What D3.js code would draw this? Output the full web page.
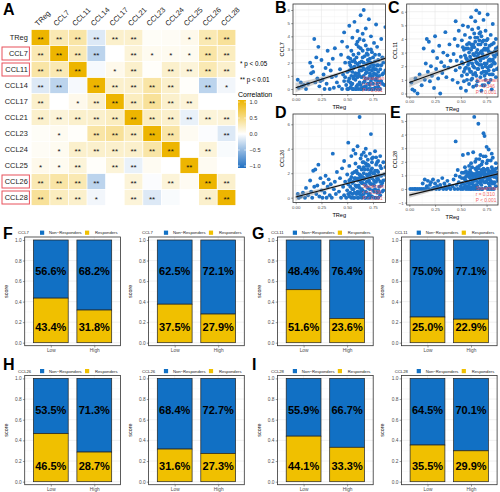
<!DOCTYPE html>
<html><head><meta charset="utf-8">
<script src="https://cdn.jsdelivr.net/npm/d3@7"></script>
<style>body{margin:0;background:#fff}svg{display:block;font-family:"Liberation Sans",Arial,sans-serif}</style>
</head><body><svg id="c" width="500" height="492"></svg>
<script>
// ---------------- DATA ----------------
const genes = ["TReg","CCL7","CCL11","CCL14","CCL17","CCL21","CCL23","CCL24","CCL25","CCL26","CCL28"];
const highlighted = ["CCL7","CCL11","CCL26","CCL28"];
const corr = [
 [1.00, 0.30, 0.35,-0.15, 0.20, 0.20, 0.03, 0.04, 0.08, 0.30, 0.40],
 [0.30, 1.00, 0.30,-0.30, 0.00, 0.15, 0.06, 0.06, 0.06, 0.35, 0.25],
 [0.35, 0.30, 1.00,-0.04, 0.08, 0.20, 0.02, 0.20, 0.15, 0.30, 0.20],
 [-0.15,-0.30,-0.04,1.00, 0.20, 0.20, 0.35, 0.20, 0.02,-0.30,-0.06],
 [0.20, 0.00, 0.08, 0.20, 1.00, 0.25, 0.40, 0.20, 0.15, 0.00, 0.00],
 [0.20, 0.15, 0.20, 0.20, 0.25, 1.00, 0.25, 0.20,-0.10, 0.15, 0.15],
 [0.03, 0.06, 0.02, 0.35, 0.40, 0.25, 1.00, 0.35, 0.05,-0.02,-0.15],
 [0.04, 0.06, 0.20, 0.20, 0.20, 0.20, 0.35, 1.00, 0.00, 0.15,-0.03],
 [0.08, 0.06, 0.15, 0.02, 0.15,-0.10, 0.05, 0.00, 1.00, 0.05, 0.00],
 [0.30, 0.35, 0.30,-0.30, 0.00, 0.15,-0.02, 0.15, 0.05, 1.00, 0.20],
 [0.40, 0.25, 0.20,-0.06, 0.00, 0.15,-0.15,-0.03, 0.00, 0.20, 1.00]
];
const sig = [
 ["**","**","**","**","**","**","","","*","**","**"],
 ["**","**","**","**","","**","*","*","*","**","**"],
 ["**","**","**","","*","**","","**","**","**","**"],
 ["**","**","","**","**","**","**","**","","**","*"],
 ["**","","*","**","**","**","**","**","**","",""],
 ["**","**","**","**","**","**","**","**","**","**","**"],
 ["","*","","**","**","**","**","**","","","**"],
 ["","*","**","**","**","**","**","**","","**",""],
 ["*","*","**","","**","**","","","**","",""],
 ["**","**","**","**","","**","","**","","**","**"],
 ["**","**","**","*","","**","**","","","**","**"]
];
const legendTicks = [1.0,0.5,0.0,-0.5,-1.0];

const ptsB = [[0.02,0.7],[0.03,0.1],[0.05,0.5],[0.06,0.2],[0.08,0.3],[0.1,0.0],[0.12,0.4],[0.14,2.0],[0.15,1.2],[0.16,1.7],[0.17,1.3],[0.18,3.8],[0.19,0.5],[0.2,2.4],[0.21,0.8],[0.22,3.2],[0.23,0.2],[0.24,0.6],[0.25,2.2],[0.26,0.7],[0.27,1.1],[0.28,0.0],[0.29,1.6],[0.3,0.4],[0.31,2.9],[0.32,1.9],[0.33,0.0],[0.34,1.4],[0.35,0.9],[0.36,2.3],[0.37,0.1],[0.38,3.1],[0.39,1.0],[0.4,0.5],
[0.42,0.2],[0.43,1.5],[0.44,2.6],[0.45,0.0],[0.45,3.6],[0.46,1.1],[0.47,0.6],[0.47,4.3],[0.48,2.0],[0.49,0.3],[0.5,1.3],[0.5,3.2],[0.51,0.0],[0.51,2.4],[0.52,0.8],[0.52,4.8],[0.53,1.8],[0.53,0.1],[0.54,2.9],[0.54,1.0],[0.55,0.4],[0.55,3.9],[0.56,1.6],[0.56,0.0],[0.57,2.2],[0.57,5.1],[0.58,0.7],[0.58,1.2],[0.59,3.4],[0.59,0.2],[0.6,1.9],[0.6,4.4],[0.61,0.0],[0.61,2.7],[0.62,1.4],[0.62,0.5],[0.63,3.1],[0.63,5.6],[0.64,0.9],[0.64,2.1],[0.65,0.1],[0.65,1.7],[0.66,3.7],[0.66,6.0],[0.67,0.6],[0.67,2.5],[0.68,1.2],[0.68,4.6],[0.69,0.0],[0.69,1.9],[0.7,3.0],[0.7,0.8],[0.71,5.3],[0.71,1.5],[0.72,0.3],[0.72,2.3],[0.73,4.0],[0.73,1.0],[0.74,0.0],[0.74,2.8],[0.75,1.6],[0.75,0.4],[0.76,3.5],[0.76,1.2],[0.77,0.1],[0.77,2.1],[0.78,4.9],[0.78,0.7],[0.79,1.8],[0.79,3.2],[0.8,0.2],[0.8,1.3],[0.81,2.6],[0.81,0.0],[0.82,1.5],[0.83,3.8],[0.83,0.6],[0.84,1.1],[0.85,2.0],[0.86,0.3],[0.87,4.7],[0.87,1.4],
[0.48,0.9],[0.5,0.0],[0.52,1.4],[0.54,0.3],[0.56,2.6],[0.58,0.0],[0.6,0.9],[0.62,2.0],[0.64,0.0],[0.66,1.0],[0.68,0.2],[0.7,1.6],[0.72,0.0],[0.74,1.4],[0.76,0.0],[0.78,1.1],[0.8,0.6],[0.82,0.0],[0.84,2.4],[0.6,3.6],[0.65,4.2],[0.7,2.2],[0.75,2.4],[0.62,3.8],[0.68,3.3],[0.73,0.6],[0.57,1.0],[0.63,1.7],[0.69,2.7],[0.71,0.4],[0.77,1.5],[0.66,0.5],[0.59,2.4],[0.53,2.3],[0.55,1.3],[0.61,1.2],[0.67,1.5],[0.72,1.2],[0.79,0.4],[0.74,1.9],
[0.51,0.6],[0.52,2.0],[0.53,0.5],[0.54,1.6],[0.55,2.1],[0.56,0.8],[0.57,1.7],[0.58,2.0],[0.59,1.0],[0.6,0.3],[0.61,1.7],[0.62,1.0],[0.63,0.3],[0.64,1.4],[0.65,2.4],[0.66,1.5],[0.67,0.2],[0.68,0.8],[0.69,1.3],[0.7,0.4],[0.71,2.0],[0.72,1.7],[0.73,2.0],[0.74,0.8],[0.75,1.0],[0.76,1.8],[0.77,0.7],[0.78,1.5],[0.79,0.9],[0.8,1.8],[0.81,1.0],[0.82,0.5],[0.83,1.8],[0.84,0.4],[0.85,1.2],[0.63,0.0],[0.67,0.0],[0.71,0.0],[0.75,0.0],[0.79,0.0],[0.55,0.0],[0.59,0.0],[0.65,2.9],[0.7,2.6],[0.73,3.0],[0.77,2.6],[0.61,3.2],[0.66,2.0],[0.72,1.0],[0.8,2.2]];
const ptsC = [[0.02,0.8],[0.03,0.3],[0.05,0.2],[0.06,1.1],[0.08,0.0],[0.1,1.4],[0.12,0.6],[0.14,3.3],[0.15,1.0],[0.16,2.2],[0.17,4.0],[0.18,1.6],[0.19,3.8],[0.2,0.9],[0.21,2.0],[0.22,1.3],[0.23,3.1],[0.24,0.4],[0.25,4.2],[0.26,1.8],[0.27,2.6],[0.28,1.1],[0.29,3.5],[0.3,0.0],[0.31,2.3],[0.32,1.5],[0.33,3.0],[0.34,2.0],[0.35,4.5],[0.36,1.2],[0.37,2.8],[0.38,1.9],[0.39,3.6],[0.4,2.4],
[0.42,1.0],[0.43,2.9],[0.44,4.0],[0.45,1.7],[0.45,5.3],[0.46,2.4],[0.47,0.8],[0.47,3.5],[0.48,4.6],[0.49,1.9],[0.5,2.7],[0.5,0.4],[0.51,3.9],[0.51,1.3],[0.52,2.2],[0.52,5.0],[0.53,3.2],[0.53,0.9],[0.54,4.3],[0.54,1.8],[0.55,2.6],[0.55,0.2],[0.56,3.6],[0.56,1.4],[0.57,4.9],[0.57,2.1],[0.58,0.7],[0.58,3.0],[0.59,1.6],[0.59,4.1],[0.6,2.5],[0.6,5.6],[0.61,1.1],[0.61,3.4],[0.62,2.0],[0.62,0.5],[0.63,4.4],[0.63,2.8],[0.64,1.5],[0.64,3.8],[0.65,6.1],[0.65,2.3],[0.66,0.9],[0.66,3.2],[0.67,4.8],[0.67,1.8],[0.68,2.6],[0.68,5.9],[0.69,1.2],[0.69,3.6],[0.7,2.1],[0.7,4.2],[0.71,0.6],[0.71,2.9],[0.72,5.4],[0.72,1.6],[0.73,3.3],[0.73,2.2],[0.74,4.6],[0.74,1.0],[0.75,2.7],[0.75,3.9],[0.76,1.9],[0.76,5.8],[0.77,2.4],[0.77,0.8],[0.78,3.5],[0.78,1.4],[0.79,4.3],[0.79,2.0],[0.8,3.0],[0.8,0.3],[0.81,2.5],[0.81,5.1],[0.82,1.7],[0.82,3.7],[0.83,2.2],[0.84,4.0],[0.84,1.2],[0.85,2.9],[0.86,3.4],[0.87,1.9],[0.88,2.6],
[0.55,3.3],[0.6,1.0],[0.62,3.6],[0.65,1.3],[0.67,2.9],[0.69,4.5],[0.7,0.2],[0.71,3.8],[0.73,1.3],[0.75,1.5],[0.77,3.1],[0.79,1.0],[0.58,2.3],[0.63,1.9],[0.66,2.2],[0.68,3.9],[0.72,2.6],[0.74,3.2],[0.76,2.8],[0.8,2.1],[0.83,3.1],[0.61,4.7],[0.64,5.3],[0.69,2.4],[0.74,2.0],[0.78,2.5],[0.82,2.8],[0.6,3.2],[0.66,4.1],[0.7,3.1],
[0.51,2.3],[0.52,3.4],[0.53,1.6],[0.54,2.8],[0.55,1.9],[0.56,2.5],[0.57,3.3],[0.58,1.8],[0.59,2.7],[0.6,3.6],[0.61,2.2],[0.62,2.9],[0.63,3.4],[0.64,2.5],[0.65,3.0],[0.66,1.8],[0.67,3.6],[0.68,2.1],[0.69,3.0],[0.7,2.6],[0.71,1.9],[0.72,3.2],[0.73,2.7],[0.74,3.6],[0.75,2.2],[0.76,3.3],[0.77,1.7],[0.78,3.0],[0.79,2.4],[0.8,3.6],[0.81,1.4],[0.82,2.3],[0.83,2.7],[0.84,3.3],[0.85,1.8],[0.62,1.4],[0.66,2.7],[0.7,1.5],[0.74,1.6],[0.78,2.0],[0.64,4.1],[0.68,4.4],[0.72,3.9],[0.76,4.0],[0.6,1.6],[0.58,3.7],[0.8,1.4],[0.65,0.6],[0.73,0.6],[0.56,1.0]];
const ptsD = [[0.02,0.3],[0.03,0.0],[0.05,0.1],[0.07,0.4],[0.09,0.0],[0.1,0.8],[0.12,0.2],[0.14,1.4],[0.15,0.5],[0.16,0.0],[0.17,2.2],[0.18,0.9],[0.19,2.3],[0.2,0.3],[0.21,1.0],[0.22,2.7],[0.23,0.1],[0.24,1.6],[0.25,0.6],[0.26,0.0],[0.27,1.2],[0.28,0.4],[0.29,1.8],[0.3,0.0],[0.31,0.9],[0.32,1.5],[0.33,0.2],[0.34,1.1],[0.35,0.0],[0.36,3.6],[0.37,0.7],[0.38,1.3],[0.39,0.3],[0.4,2.1],
[0.42,0.5],[0.43,1.6],[0.44,0.0],[0.45,2.4],[0.46,0.9],[0.47,0.2],[0.47,3.0],[0.48,1.3],[0.49,0.0],[0.5,1.9],[0.5,0.6],[0.51,4.5],[0.51,1.1],[0.52,0.1],[0.52,2.6],[0.53,1.5],[0.53,0.4],[0.54,3.4],[0.54,0.0],[0.55,1.2],[0.55,2.0],[0.56,0.7],[0.56,3.9],[0.57,1.6],[0.57,0.0],[0.58,2.8],[0.58,1.0],[0.59,0.3],[0.59,2.2],[0.6,1.4],[0.6,4.2],[0.61,0.0],[0.61,2.5],[0.62,0.8],[0.62,6.6],[0.63,1.8],[0.63,3.2],[0.64,0.2],[0.64,1.2],[0.65,2.9],[0.65,0.6],[0.66,3.7],[0.66,1.5],[0.67,0.0],[0.67,2.3],[0.68,1.0],[0.68,4.0],[0.69,0.4],[0.69,1.9],[0.7,3.1],[0.7,0.0],[0.71,1.4],[0.71,2.6],[0.72,0.7],[0.72,3.6],[0.73,5.2],[0.73,1.7],[0.74,0.1],[0.74,2.4],[0.75,1.1],[0.75,3.3],[0.76,0.5],[0.76,2.0],[0.77,3.8],[0.77,1.3],[0.78,0.0],[0.78,2.7],[0.79,1.6],[0.79,0.4],[0.8,3.0],[0.8,2.1],[0.81,0.9],[0.81,1.8],[0.82,3.4],[0.82,0.2],[0.83,2.4],[0.84,1.2],[0.85,2.9],[0.85,0.6],[0.86,1.9],[0.87,2.5],[0.88,1.5],
[0.55,0.3],[0.6,0.5],[0.62,1.9],[0.64,2.3],[0.66,0.3],[0.68,2.8],[0.7,1.7],[0.72,1.2],[0.74,2.9],[0.76,1.4],[0.78,1.8],[0.8,0.6],[0.57,2.1],[0.59,1.5],[0.61,1.0],[0.63,0.5],[0.65,1.7],[0.67,1.1],[0.69,2.6],[0.71,0.2],[0.73,2.2],[0.75,0.6],[0.77,2.2],[0.79,2.9],[0.83,1.0],[0.58,3.6],[0.64,3.5],[0.7,2.3],[0.66,2.5],[0.72,2.0],
[0.51,0.3],[0.52,1.4],[0.53,0.9],[0.54,1.7],[0.55,0.7],[0.56,1.3],[0.57,0.4],[0.58,1.6],[0.59,0.9],[0.6,2.0],[0.61,1.6],[0.62,0.3],[0.63,1.3],[0.64,0.7],[0.65,1.2],[0.66,2.0],[0.67,1.6],[0.68,0.5],[0.69,1.3],[0.7,0.8],[0.71,1.9],[0.72,0.3],[0.73,1.1],[0.74,1.6],[0.75,2.0],[0.76,1.0],[0.77,0.7],[0.78,1.3],[0.79,2.2],[0.8,1.5],[0.81,0.4],[0.82,1.3],[0.83,1.8],[0.84,0.5],[0.85,1.4],[0.6,0.0],[0.64,0.0],[0.68,0.0],[0.72,0.0],[0.76,0.0],[0.8,0.0],[0.56,0.0],[0.62,2.5],[0.66,2.9],[0.7,2.7],[0.74,3.2],[0.78,3.3],[0.82,2.6],[0.68,3.4],[0.64,1.6]];
const ptsE = [[0.01,0.0],[0.03,0.0],[0.05,0.0],[0.06,0.0],[0.08,0.0],[0.1,0.0],[0.12,0.0],[0.13,0.4],[0.14,0.0],[0.15,0.7],[0.16,0.0],[0.17,0.2],[0.18,0.6],[0.19,0.0],[0.2,0.3],[0.21,0.5],[0.22,0.0],[0.23,0.7],[0.24,0.1],[0.25,0.4],[0.26,0.0],[0.27,0.2],[0.28,0.6],[0.29,0.0],[0.3,0.3],[0.31,0.1],[0.32,0.8],[0.33,0.0],[0.34,0.4],[0.35,0.2],[0.36,0.0],[0.37,0.6],[0.38,0.1],[0.39,0.3],[0.4,0.0],
[0.42,0.2],[0.43,0.7],[0.44,0.0],[0.45,3.5],[0.45,1.0],[0.46,0.3],[0.47,0.0],[0.47,1.4],[0.48,0.5],[0.49,0.9],[0.5,0.0],[0.5,0.2],[0.51,1.2],[0.51,0.4],[0.52,0.0],[0.52,2.5],[0.53,0.8],[0.53,0.1],[0.54,1.6],[0.54,0.3],[0.55,0.0],[0.55,0.6],[0.56,1.1],[0.56,0.2],[0.57,2.6],[0.57,0.0],[0.58,0.9],[0.58,0.4],[0.59,1.4],[0.59,0.0],[0.6,0.7],[0.6,1.9],[0.61,0.1],[0.61,1.0],[0.62,2.7],[0.62,0.3],[0.63,5.3],[0.63,0.6],[0.64,1.5],[0.64,0.0],[0.65,0.9],[0.65,2.2],[0.66,0.2],[0.66,1.2],[0.67,4.8],[0.67,0.5],[0.68,1.7],[0.68,0.0],[0.69,1.0],[0.69,2.5],[0.7,0.3],[0.7,1.4],[0.71,2.0],[0.71,0.0],[0.72,4.1],[0.72,0.8],[0.73,3.9],[0.73,1.2],[0.74,0.1],[0.74,2.4],[0.75,0.6],[0.75,3.1],[0.76,1.5],[0.76,0.0],[0.77,2.9],[0.77,0.9],[0.78,1.3],[0.78,0.2],[0.79,2.1],[0.79,0.6],[0.8,1.6],[0.8,0.0],[0.81,1.0],[0.81,2.3],[0.82,0.4],[0.82,1.4],[0.83,0.9],[0.84,1.9],[0.84,0.2],[0.85,1.2],[0.86,0.6],[0.87,1.6],[0.88,3.7],[0.88,0.9],
[0.55,0.9],[0.58,1.2],[0.6,0.4],[0.62,1.1],[0.64,0.7],[0.66,1.6],[0.68,0.8],[0.7,1.1],[0.72,1.5],[0.74,0.9],[0.76,1.1],[0.78,0.7],[0.8,1.1],[0.82,0.9],[0.57,0.5],[0.59,0.8],[0.61,1.6],[0.63,0.2],[0.65,1.4],[0.67,1.1],[0.69,0.4],[0.71,1.3],[0.73,0.5],[0.75,1.9],[0.77,0.4],[0.79,1.2],[0.81,0.5],[0.83,1.3],[0.65,0.3],[0.7,0.6],
[0.51,0.8],[0.52,0.4],[0.53,1.2],[0.54,0.7],[0.55,1.3],[0.56,0.5],[0.57,1.0],[0.58,0.2],[0.59,1.1],[0.6,1.2],[0.61,0.5],[0.62,0.8],[0.63,1.0],[0.64,1.1],[0.65,0.6],[0.66,0.9],[0.67,1.5],[0.68,1.2],[0.69,0.7],[0.7,1.8],[0.71,0.6],[0.72,1.1],[0.73,0.9],[0.74,1.4],[0.75,1.0],[0.76,0.7],[0.77,1.3],[0.78,1.0],[0.79,0.9],[0.8,0.4],[0.81,1.4],[0.82,1.2],[0.83,0.5],[0.84,1.0],[0.85,0.8],[0.6,0.0],[0.62,0.0],[0.66,0.0],[0.7,0.0],[0.74,0.5],[0.78,0.0],[0.82,0.0],[0.64,2.0],[0.68,2.2],[0.72,2.4],[0.76,2.1],[0.8,2.6],[0.84,1.5],[0.58,1.7],[0.86,1.1]];
// fitted line end points and CI half widths [x, half]
const fitB = [[0,0.10],[0.88,2.35]], bandB = [[0,0.35],[0.3,0.15],[0.6,0.07],[0.88,0.20]];
const fitC = [[0,0.80],[0.88,3.20]], bandC = [[0,0.35],[0.3,0.15],[0.6,0.07],[0.88,0.18]];
const fitD = [[0,0.05],[0.88,2.00]], bandD = [[0,0.30],[0.3,0.13],[0.6,0.06],[0.88,0.17]];
const fitE = [[0,-0.45],[0.88,1.15]], bandE = [[0,0.20],[0.3,0.09],[0.6,0.04],[0.88,0.10]];
const statR = ["r = 0.373","r = 0.346","r = 0.336","r = 0.310"];
const scatterY = ["CCL7","CCL11","CCL26","CCL28"];
const xTicksS = [0,0.25,0.5,0.75];

const groups = ["Low","High"];
const barGenes = ["CCL7","CCL11","CCL26","CCL28"];
const respF1=[43.4,31.8], nonF1=[56.6,68.2];
const respF2=[37.5,27.9], nonF2=[62.5,72.1];
const respG1=[51.6,23.6], nonG1=[48.4,76.4];
const respG2=[25.0,22.9], nonG2=[75.0,77.1];
const respH1=[46.5,28.7], nonH1=[53.5,71.3];
const respH2=[31.6,27.3], nonH2=[68.4,72.7];
const respI1=[44.1,33.3], nonI1=[55.9,66.7];
const respI2=[35.5,29.9], nonI2=[64.5,70.1];
const scoreTicks=[0,0.2,0.4,0.6,0.8,1.0];

// ---------------- DRAW ----------------
const svg = d3.select("#c");
const GOLD="#EDB500", BLUE="#1F6FC2", PT="#1E72C6", YEL="#F0C000", BBLUE="#1170C4";
const defs = svg.append("defs");

// Panel letters
[["A",3,15],["B",275,13],["C",388,13],["D",275,117.5],["E",390,117.5],["F",3,239],["G",252,239],["H",3,370],["I",252,370]]
 .forEach(([t,x,y])=>svg.append("text").attr("x",x).attr("y",y).attr("font-size",16).attr("font-weight","bold").text(t));

// Heatmap
const xh = d3.scaleBand().domain(genes).range([31.2,235.8]);
const yh = d3.scaleBand().domain(genes).range([29.5,205.5]);
const cscale = d3.scaleLinear().domain([-1,0,1]).range([BLUE,"#FFFFFF",GOLD]);
const cells = genes.flatMap((r,i)=>genes.map((c,j)=>({r,c,v:corr[i][j],s:sig[i][j]})));
const hm = svg.append("g");
hm.selectAll("rect").data(cells).join("rect")
 .attr("x",d=>xh(d.c)+0.4).attr("y",d=>yh(d.r)+0.4)
 .attr("width",xh.bandwidth()-0.8).attr("height",yh.bandwidth()-0.8)
 .attr("fill",d=>cscale(d.v));
hm.selectAll("text.s").data(cells.filter(d=>d.s)).join("text").attr("class","s")
 .attr("x",d=>xh(d.c)+xh.bandwidth()/2).attr("y",d=>yh(d.r)+yh.bandwidth()/2+4.6)
 .attr("text-anchor","middle").attr("font-size",8).attr("fill","#111").text(d=>d.s);
hm.selectAll("text.r").data(genes).join("text").attr("class","r")
 .attr("x",27.8).attr("y",d=>yh(d)+yh.bandwidth()/2+2.6)
 .attr("text-anchor","end").attr("font-size",7.4).attr("fill","#1a1a1a").text(d=>d);
hm.selectAll("text.c").data(genes).join("text").attr("class","c")
 .attr("transform",d=>`translate(${xh(d)+xh.bandwidth()/2-2.5},26.5) rotate(-45)`)
 .attr("font-size",7.4).attr("fill","#1a1a1a").text(d=>d);
hm.selectAll("rect.h").data(highlighted).join("rect").attr("class","h")
 .attr("x",2).attr("y",d=>yh(d)+1.5).attr("width",27.4).attr("height",13)
 .attr("fill","none").attr("stroke","#E8505B").attr("stroke-width",1);

// Heatmap legend
svg.append("text").attr("x",240).attr("y",66).attr("font-size",6.3).text("* p < 0.05");
svg.append("text").attr("x",240).attr("y",82).attr("font-size",6.3).text("** p < 0.01");
svg.append("text").attr("x",238).attr("y",97).attr("font-size",7).text("Correlation");
const grad = defs.append("linearGradient").attr("id","cg").attr("x1",0).attr("x2",0).attr("y1",0).attr("y2",1);
grad.append("stop").attr("offset","0%").attr("stop-color",GOLD);
grad.append("stop").attr("offset","50%").attr("stop-color","#FFFFFF");
grad.append("stop").attr("offset","100%").attr("stop-color",BLUE);
svg.append("rect").attr("x",238).attr("y",100).attr("width",8).attr("height",68).attr("fill","url(#cg)");
const yc = d3.scaleLinear().domain([1,-1]).range([102,166]);
legendTicks.forEach(t=>{
  svg.append("line").attr("x1",238).attr("x2",239.8).attr("y1",yc(t)).attr("y2",yc(t)).attr("stroke","#fff").attr("stroke-width",0.6);
  svg.append("line").attr("x1",244.2).attr("x2",246).attr("y1",yc(t)).attr("y2",yc(t)).attr("stroke","#fff").attr("stroke-width",0.6);
  svg.append("text").attr("x",249.5).attr("y",yc(t)+2).attr("font-size",5.6).attr("fill","#333").text(t.toFixed(1).replace("-","\u2212"));
});

// Scatter panels
function scatter(idx,cfg,pts,fit,band){
  const g = svg.append("g");
  const x = d3.scaleLinear().domain([0,0.75]).range([cfg.xa,cfg.xb]);
  const y = d3.scaleLinear().domain([0,cfg.yv]).range([cfg.ya,cfg.yb]);
  const id="cl"+idx;
  defs.append("clipPath").attr("id",id).append("rect").attr("x",cfg.L).attr("y",cfg.T).attr("width",cfg.R-cfg.L).attr("height",cfg.B-cfg.T);
  g.append("rect").attr("x",cfg.L).attr("y",cfg.T).attr("width",cfg.R-cfg.L).attr("height",cfg.B-cfg.T).attr("fill","#fff");
  const gg = g.append("g").attr("clip-path",`url(#${id})`);
  const xMin=[0.125,0.375,0.625,0.875];
  xMin.forEach(v=>gg.append("line").attr("x1",x(v)).attr("x2",x(v)).attr("y1",cfg.T).attr("y2",cfg.B).attr("stroke","#F3F3F3").attr("stroke-width",0.4));
  cfg.yt.slice(0,-1).forEach((v,i)=>{const m=(v+cfg.yt[i+1])/2;gg.append("line").attr("x1",cfg.L).attr("x2",cfg.R).attr("y1",y(m)).attr("y2",y(m)).attr("stroke","#F3F3F3").attr("stroke-width",0.4);});
  xTicksS.forEach(v=>gg.append("line").attr("x1",x(v)).attr("x2",x(v)).attr("y1",cfg.T).attr("y2",cfg.B).attr("stroke","#E6E6E6").attr("stroke-width",0.6));
  cfg.yt.forEach(v=>gg.append("line").attr("x1",cfg.L).attr("x2",cfg.R).attr("y1",y(v)).attr("y2",y(v)).attr("stroke","#E6E6E6").attr("stroke-width",0.6));
  gg.selectAll("circle").data(pts).join("circle").attr("cx",d=>x(d[0])).attr("cy",d=>y(d[1])).attr("r",1.95).attr("fill",PT);
  const slope=(fit[1][1]-fit[0][1])/(fit[1][0]-fit[0][0]);
  const ly=v=>fit[0][1]+slope*(v-fit[0][0]);
  gg.append("path").datum(band).attr("d",d3.area().x(d=>x(d[0])).y0(d=>y(ly(d[0])-d[1])).y1(d=>y(ly(d[0])+d[1])).curve(d3.curveMonotoneX))
    .attr("fill","#9a9a9a").attr("opacity",0.45);
  gg.append("line").attr("x1",x(fit[0][0])).attr("y1",y(fit[0][1])).attr("x2",x(fit[1][0])).attr("y2",y(fit[1][1])).attr("stroke","#111").attr("stroke-width",1.1);
  // stats
  const sx = x(0.645);
  [["Spearman",cfg.B-15],[statR[idx],cfg.B-9],["P < 0.001",cfg.B-3]].forEach(([t,yy])=>
    g.append("text").attr("x",sx).attr("y",yy).attr("font-size",4.8).attr("fill","#F04A4A").attr("opacity",0.85).text(t));
  g.append("rect").attr("x",cfg.L).attr("y",cfg.T).attr("width",cfg.R-cfg.L).attr("height",cfg.B-cfg.T).attr("fill","none").attr("stroke","#333").attr("stroke-width",0.8);
  const ax = g.append("g").attr("transform",`translate(0,${cfg.B})`).call(d3.axisBottom(x).tickValues(xTicksS).tickFormat(d3.format(".2f")).tickSize(1.8).tickPadding(1.2));
  const ay = g.append("g").attr("transform",`translate(${cfg.L},0)`).call(d3.axisLeft(y).tickValues(cfg.yt).tickFormat(d=>d<0?"\u2212"+(-d):d).tickSize(1.8).tickPadding(1.2));
  [ax,ay].forEach(a=>{a.select(".domain").remove();a.selectAll("line").attr("stroke","#333").attr("stroke-width",0.5);a.selectAll("text").attr("font-size",4.4).attr("fill","#4D4D4D").attr("font-family","Liberation Sans, Arial, sans-serif");});
  g.append("text").attr("x",(cfg.L+cfg.R)/2).attr("y",cfg.B+14).attr("text-anchor","middle").attr("font-size",5.6).text("TReg");
  g.append("text").attr("transform",`translate(${cfg.L-9.5},${(cfg.T+cfg.B)/2}) rotate(-90)`).attr("text-anchor","middle").attr("font-size",5.6).text(scatterY[idx]);
}
scatter(0,{L:293,R:385.5,T:4,B:94.5,xa:295.7,xb:373,ya:89,yb:10,yv:6,yt:[0,1,2,3,4,5,6]},ptsB,fitB,bandB);
scatter(1,{L:406.7,R:498,T:4,B:97,xa:409.3,xb:486.6,ya:93.5,yb:11.7,yv:6,yt:[0,1,2,3,4,5,6]},ptsC,fitC,bandC);
scatter(2,{L:293,R:385.5,T:114,B:202.5,xa:295.7,xb:373,ya:197.7,yb:124.3,yv:6,yt:[0,2,4,6]},ptsD,fitD,bandD);
scatter(3,{L:406.7,R:498,T:114,B:205,xa:409.3,xb:486.6,ya:189,yb:121,yv:5,yt:[-1,0,1,2,3,4,5]},ptsE,fitE,bandE);

// Bar panels
function bars(L,y1,y0,gene,resp,non){
  const W=95.7, g=svg.append("g");
  const x=d3.scalePoint().domain(groups).range([L,L+W]).padding(0.6);
  const bw=x.step()*0.8;
  const y=d3.scaleLinear().domain([0,1]).range([y0,y1]);
  const T=y1-3, B=y0+3;
  g.append("rect").attr("x",L).attr("y",T).attr("width",W).attr("height",B-T).attr("fill","#fff");
  [0.1,0.3,0.5,0.7,0.9].forEach(v=>g.append("line").attr("x1",L).attr("x2",L+W).attr("y1",y(v)).attr("y2",y(v)).attr("stroke","#F3F3F3").attr("stroke-width",0.4));
  scoreTicks.forEach(v=>g.append("line").attr("x1",L).attr("x2",L+W).attr("y1",y(v)).attr("y2",y(v)).attr("stroke","#E6E6E6").attr("stroke-width",0.6));
  groups.forEach(k=>g.append("line").attr("x1",x(k)).attr("x2",x(k)).attr("y1",T).attr("y2",B).attr("stroke","#E6E6E6").attr("stroke-width",0.6));
  const rows = groups.map((k,i)=>({k,r:resp[i]/100,n:non[i]}));
  g.selectAll("rect.n").data(rows).join("rect").attr("class","n")
   .attr("x",d=>x(d.k)-bw/2).attr("y",y(1)).attr("width",bw).attr("height",d=>y(d.r)-y(1))
   .attr("fill",BBLUE).attr("stroke","#222").attr("stroke-width",0.7);
  g.selectAll("rect.r").data(rows).join("rect").attr("class","r")
   .attr("x",d=>x(d.k)-bw/2).attr("y",d=>y(d.r)).attr("width",bw).attr("height",d=>y(0)-y(d.r))
   .attr("fill",YEL).attr("stroke","#222").attr("stroke-width",0.7);
  rows.forEach((d,i)=>{
    g.append("text").attr("x",x(d.k)).attr("y",y(0.695)+4).attr("text-anchor","middle").attr("font-size",11).attr("font-weight","bold").text(non[i].toFixed(1)+"%");
    g.append("text").attr("x",x(d.k)).attr("y",y(0.15)+4).attr("text-anchor","middle").attr("font-size",11).attr("font-weight","bold").text(resp[i].toFixed(1)+"%");
  });
  g.append("rect").attr("x",L).attr("y",T).attr("width",W).attr("height",B-T).attr("fill","none").attr("stroke","#333").attr("stroke-width",0.8);
  const ay=g.append("g").attr("transform",`translate(${L},0)`).call(d3.axisLeft(y).tickValues(scoreTicks).tickFormat(d3.format(".1f")).tickSize(1.8).tickPadding(1.2));
  const ax=g.append("g").attr("transform",`translate(0,${B})`).call(d3.axisBottom(x).tickSize(1.8).tickPadding(1.5));
  [ax,ay].forEach(a=>{a.select(".domain").remove();a.selectAll("line").attr("stroke","#333").attr("stroke-width",0.5);a.selectAll("text").attr("font-size",4.8).attr("fill","#4D4D4D").attr("font-family","Liberation Sans, Arial, sans-serif");});
  g.append("text").attr("transform",`translate(${L-17},${(T+B)/2}) rotate(-90)`).attr("text-anchor","middle").attr("font-size",5.4).attr("fill","#222").text("score");
  // legend
  const ly=y1-7.3;
  g.append("text").attr("x",L-6.6).attr("y",ly+1.5).attr("font-size",4.2).attr("fill","#222").text(gene);
  g.append("rect").attr("x",L+15.3).attr("y",ly-2.1).attr("width",4.2).attr("height",4.2).attr("fill",BBLUE);
  g.append("text").attr("x",L+24.3).attr("y",ly+1.5).attr("font-size",4.2).attr("fill","#222").text("Non\u2212Responders");
  g.append("rect").attr("x",L+60.3).attr("y",ly-2.1).attr("width",4.2).attr("height",4.2).attr("fill",YEL);
  g.append("text").attr("x",L+70.3).attr("y",ly+1.5).attr("font-size",4.2).attr("fill","#222").text("Responders");
}
const colL=[24.7,148.6,277.5,401.4];
bars(colL[0],240,342.7,barGenes[0],respF1,nonF1);
bars(colL[1],240,342.7,barGenes[0],respF2,nonF2);
bars(colL[2],240,342.7,barGenes[1],respG1,nonG1);
bars(colL[3],240,342.7,barGenes[1],respG2,nonG2);
bars(colL[0],378.4,481.7,barGenes[2],respH1,nonH1);
bars(colL[1],378.4,481.7,barGenes[2],respH2,nonH2);
bars(colL[2],378.4,481.7,barGenes[3],respI1,nonI1);
bars(colL[3],378.4,481.7,barGenes[3],respI2,nonI2);
</script></body></html>
